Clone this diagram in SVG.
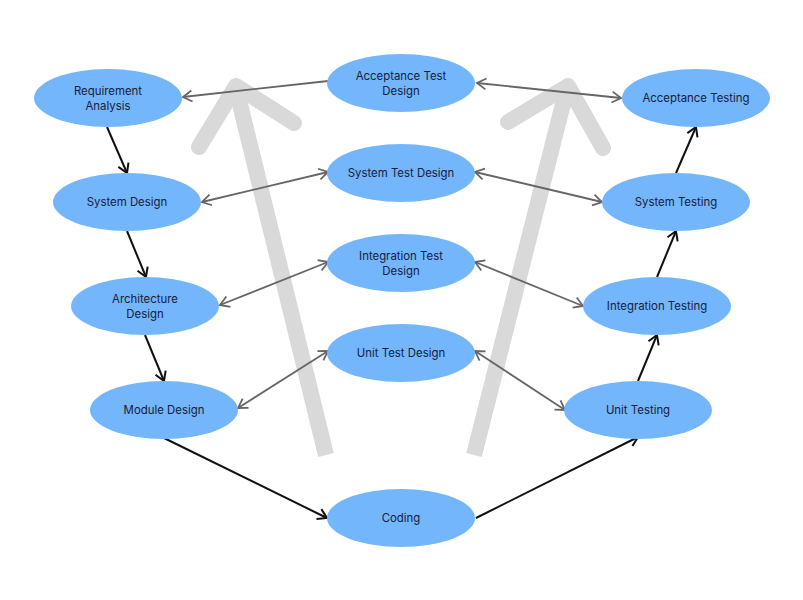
<svg xmlns="http://www.w3.org/2000/svg" width="803" height="600" viewBox="0 0 803 600">
<defs>
<style>
.bg{fill:#ffffff}
.big{fill:none;stroke:#d9d9d9;stroke-width:16}
.shaft{stroke-linecap:butt}
.head{stroke-linecap:round;stroke-linejoin:round}
.node ellipse{fill:#74b6fc}
.node text{font-family:Inter,"Noto Sans","Liberation Sans",sans-serif;font-size:11.4px;fill:#16203a;text-anchor:middle}
.g{fill:none;stroke:#666666;stroke-width:1.8}
.k{fill:none;stroke:#111111;stroke-width:2}
</style>
<marker id="ag" markerUnits="userSpaceOnUse" markerWidth="14" markerHeight="14" refX="10" refY="6" orient="auto-start-reverse" viewBox="0 0 14 12">
<path d="M1,0.5 L10,6 L1,11.5" fill="none" stroke="#666666" stroke-width="1.8"/>
</marker>
<marker id="ak" markerUnits="userSpaceOnUse" markerWidth="14" markerHeight="14" refX="10" refY="6" orient="auto" viewBox="0 0 14 12">
<path d="M1,0.5 L10,6 L1,11.5" fill="none" stroke="#111111" stroke-width="2"/>
</marker>
</defs>
<rect class="bg" x="0" y="0" width="803" height="600"/>
<g id="flow-arrows">
<path class="big shaft" d="M326,455 L237,92"/>
<path class="big head" d="M199,147 L236,86 L294,123"/>
<path class="big shaft" d="M474,455 L566,92"/>
<path class="big head" d="M508,122 L568,86 L603,148"/>
</g>
<g id="connectors">
<line class="g" x1="328" y1="81" x2="183" y2="97" marker-end="url(#ag)"/>
<line class="g" x1="477" y1="83" x2="621" y2="98" marker-start="url(#ag)" marker-end="url(#ag)"/>
<line class="g" x1="328" y1="172" x2="202" y2="202" marker-start="url(#ag)" marker-end="url(#ag)"/>
<line class="g" x1="475" y1="172" x2="602" y2="202" marker-start="url(#ag)" marker-end="url(#ag)"/>
<line class="g" x1="328" y1="262" x2="220" y2="305" marker-start="url(#ag)" marker-end="url(#ag)"/>
<line class="g" x1="475" y1="262" x2="583" y2="306" marker-start="url(#ag)" marker-end="url(#ag)"/>
<line class="g" x1="328" y1="351" x2="238" y2="408" marker-start="url(#ag)" marker-end="url(#ag)"/>
<line class="g" x1="475" y1="351" x2="565" y2="410" marker-start="url(#ag)" marker-end="url(#ag)"/>
<line class="k" x1="107" y1="127" x2="127" y2="173" marker-end="url(#ak)"/>
<line class="k" x1="127" y1="231" x2="146" y2="277" marker-end="url(#ak)"/>
<line class="k" x1="145" y1="335" x2="164" y2="381" marker-end="url(#ak)"/>
<line class="k" x1="164" y1="438" x2="327" y2="518" marker-end="url(#ak)"/>
<line class="k" x1="476" y1="518" x2="638" y2="437" marker-end="url(#ak)"/>
<line class="k" x1="638" y1="381" x2="657" y2="335" marker-end="url(#ak)"/>
<line class="k" x1="657" y1="277" x2="676" y2="231" marker-end="url(#ak)"/>
<line class="k" x1="676" y1="173" x2="696" y2="127" marker-end="url(#ak)"/>
</g>
<g id="requirement-analysis" class="node"><ellipse cx="108" cy="98" rx="74" ry="29"/><text x="108" y="95">Requirement</text><text x="108" y="110">Analysis</text></g>
<g id="system-design" class="node"><ellipse cx="127" cy="202" rx="74" ry="29"/><text x="127" y="206">System Design</text></g>
<g id="architecture-design" class="node"><ellipse cx="145" cy="306" rx="74" ry="29"/><text x="145" y="303">Architecture</text><text x="145" y="318">Design</text></g>
<g id="module-design" class="node"><ellipse cx="164" cy="410" rx="74" ry="29"/><text x="164" y="414">Module Design</text></g>
<g id="acceptance-test-design" class="node"><ellipse cx="401" cy="83" rx="74" ry="29"/><text x="401" y="80">Acceptance Test</text><text x="401" y="95">Design</text></g>
<g id="system-test-design" class="node"><ellipse cx="401" cy="173" rx="74" ry="29"/><text x="401" y="177">System Test Design</text></g>
<g id="integration-test-design" class="node"><ellipse cx="401" cy="263" rx="74" ry="29"/><text x="401" y="260">Integration Test</text><text x="401" y="275">Design</text></g>
<g id="unit-test-design" class="node"><ellipse cx="401" cy="353" rx="74" ry="29"/><text x="401" y="357">Unit Test Design</text></g>
<g id="coding" class="node"><ellipse cx="401" cy="518" rx="74" ry="29"/><text x="401" y="522">Coding</text></g>
<g id="acceptance-testing" class="node"><ellipse cx="696" cy="98" rx="74" ry="29"/><text x="696" y="102">Acceptance Testing</text></g>
<g id="system-testing" class="node"><ellipse cx="676" cy="202" rx="74" ry="29"/><text x="676" y="206">System Testing</text></g>
<g id="integration-testing" class="node"><ellipse cx="657" cy="306" rx="74" ry="29"/><text x="657" y="310">Integration Testing</text></g>
<g id="unit-testing" class="node"><ellipse cx="638" cy="410" rx="74" ry="29"/><text x="638" y="414">Unit Testing</text></g>
</svg>
